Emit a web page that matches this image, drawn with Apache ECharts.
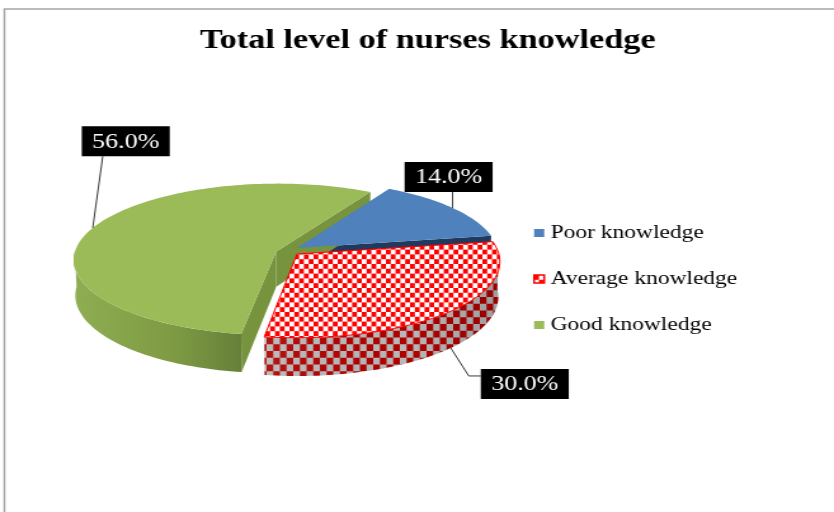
<!DOCTYPE html>
<html><head><meta charset="utf-8">
<script src="https://cdn.jsdelivr.net/npm/echarts@6/dist/echarts.min.js"></script>
<style>
html,body{margin:0;padding:0;background:#fff;overflow:hidden}
#wrap{width:834px;height:512px;overflow:hidden;position:relative}
#c{width:657px;height:512px;transform:scaleX(1.269406);transform-origin:0 0}
</style>
</head><body><div id="wrap"><div id="c"></div></div>
<script>
// ---- data ----
const categories = ['Poor knowledge', 'Average knowledge', 'Good knowledge'];
const values = [14.0, 30.0, 56.0];
const titleText = 'Total level of nurses knowledge';

// ---- layout / styles ----
const SX = 834 / 657;              // horizontal stretch of the picture
const CAM = {D: 9.33, s: 0.372, c: 0.928};
const PX = 201;                    // pixels per radius at pie centre
const CX = 297 / SX, CY = 251;     // pie centre (logical px)
const DEPTH = 0.189;               // pie thickness (radius units)
const START = 60;                  // start angle of first slice (deg, ccw from 3 o'clock)
const OFFSETS = [[0, 0.04], [0, -0.04], [-0.104, -0.01]]; // slice explosion
const DRAW_ORDER = [0, 2, 1];      // back to front
const LABEL_FONT = 'Liberation Serif';

function checker(cw, ch, n, c1, c2) {
  const cv = document.createElement('canvas');
  cv.width = Math.round(cw * n); cv.height = Math.round(ch * n);
  const g = cv.getContext('2d');
  g.fillStyle = c2; g.fillRect(0, 0, cv.width, cv.height);
  g.fillStyle = c1;
  for (let r = 0; r < n; r++) for (let q = 0; q < n; q++)
    if ((r + q) % 2 === 0) g.fillRect(q * cw, r * ch, cw, ch);
  return {image: cv, repeat: 'repeat'};
}
const redTop = checker(3.8, 4.8, 10, '#ff0000', '#ffffff');
const redSide = checker(5.25, 6.75, 4, '#b00000', '#b8b8b8');

const STYLES = [
  {top: '#4f81bd', cut: '#1f3a5c', wall: '#2c4d74', stroke: null},
  {top: redTop, cut: '#a00000', wall: redSide, stroke: '#ff0000',
   shade: [[0, 'rgba(255,255,255,0.08)'], [0.6, 'rgba(0,0,0,0)'], [1, 'rgba(0,0,0,0.15)']]},
  {top: '#9bbb59', cut: '#77933d', wallGrad: [[0, '#8fad51'], [0.6, '#7e9b44'], [1, '#66803a']], stroke: null}
];
// label layout in screen px relative to anchor
const LABELS = [
  {z: 0, dx: -4, dy: -31, mode: 'up'},
  {z: -DEPTH, dx: 74, dy: 36, mode: 'elbow'},
  {z: 0, dx: 33, dy: -86.6, mode: 'slant'}
];
const BOX_W = 88, BOX_H = 30;

function proj(X, Y, Z) {
  const den = CAM.D + Y * CAM.c - Z * CAM.s;
  const f = PX * CAM.D / den;
  return [CX + X * f / SX, CY - (Y * CAM.s + Z * CAM.c) * f];
}
function sliceRange(i) {
  const total = values.reduce((a, b) => a + b, 0);
  let before = 0;
  for (let k = 0; k < i; k++) before += values[k];
  const hi = START - 360 * before / total;
  const lo = hi - 360 * values[i] / total;
  return [lo, hi];
}
function rim(i, deg, Z) {
  const t = deg * Math.PI / 180;
  return proj(OFFSETS[i][0] + Math.cos(t), OFFSETS[i][1] + Math.sin(t), Z);
}
function arcPts(i, a, b, Z) {
  const n = Math.max(2, Math.ceil(Math.abs(b - a) / 1.5));
  const pts = [];
  for (let k = 0; k <= n; k++) pts.push(rim(i, a + (b - a) * k / n, Z));
  return pts;
}

function renderSlice(i) {
  return function (params, api) {
    const [lo, hi] = sliceRange(i);
    const [ox, oy] = OFFSETS[i];
    const ord = DRAW_ORDER.indexOf(i);
    const st = STYLES[i];
    const children = [];
    const apexT = proj(ox, oy, 0), apexB = proj(ox, oy, -DEPTH);
    // radial cut faces
    [[lo, 1], [hi, -1]].forEach(([deg, sg]) => {
      const t = deg * Math.PI / 180;
      const n = [sg * Math.sin(t), -sg * Math.cos(t)];
      const v = [-ox, -CAM.D * CAM.c - oy];
      if (n[0] * v[0] + n[1] * v[1] <= 0) return;
      children.push({type: 'polygon', z2: 10 + ord,
        shape: {points: [apexT, rim(i, deg, 0), rim(i, deg, -DEPTH), apexB]},
        style: {fill: st.cut}});
    });
    // outer front wall
    for (let m = -2; m <= 1; m++) {
      const a = Math.max(lo, -180 + 360 * m), b = Math.min(hi, 360 * m);
      if (b <= a) continue;
      const pts = arcPts(i, a, b, 0).concat(arcPts(i, b, a, -DEPTH));
      let minx = Infinity, maxx = -Infinity;
      pts.forEach(p => { minx = Math.min(minx, p[0]); maxx = Math.max(maxx, p[0]); });
      let fill = st.wall;
      if (st.wallGrad) fill = {type: 'linear', x: minx, y: 0, x2: maxx, y2: 0, global: true,
        colorStops: st.wallGrad.map(s => ({offset: s[0], color: s[1]}))};
      children.push({type: 'polygon', z2: 20 + ord, shape: {points: pts}, style: {fill: fill}});
      if (st.shade) children.push({type: 'polygon', z2: 21 + ord, shape: {points: pts},
        style: {fill: {type: 'linear', x: minx, y: 0, x2: maxx, y2: 0, global: true,
          colorStops: st.shade.map(s => ({offset: s[0], color: s[1]}))}}});
    }
    // top face
    const top = [apexT].concat(arcPts(i, lo, hi, 0));
    children.push({type: 'polygon', z2: 100 + ord, shape: {points: top},
      style: {fill: st.top, stroke: st.stroke || null, lineWidth: st.stroke ? 1 : 0}});
    // data label
    const L = LABELS[i];
    const anc = rim(i, (lo + hi) / 2, L.z);
    const bx = anc[0] + L.dx / SX, by = anc[1] + L.dy;
    let line;
    if (L.mode === 'up') line = [anc, [anc[0], by + BOX_H / 2]];
    else if (L.mode === 'slant') line = [anc, [bx - 23 / SX, by + BOX_H / 2]];
    else line = [anc, [bx - (BOX_W / 2 + 12) / SX, by - 8], [bx - BOX_W / 2 / SX, by - 8]];
    children.push({type: 'polyline', z2: 200, shape: {points: line},
      style: {stroke: '#3a3a3a', lineWidth: 1, fill: null}});
    children.push({type: 'rect', z2: 205,
      shape: {x: bx - BOX_W / 2 / SX, y: by - BOX_H / 2, width: BOX_W / SX, height: BOX_H},
      style: {fill: '#000000'}});
    children.push({type: 'text', z2: 210, x: bx, y: by + 1,
      style: {text: values[i].toFixed(1) + '%', fill: '#ffffff',
        font: 'normal 20.5px "' + LABEL_FONT + '", serif',
        fontFamily: LABEL_FONT, fontSize: 20.5,
        align: 'center', verticalAlign: 'middle'}});
    return {type: 'group', children: children};
  };
}

const legendStyles = [
  {color: '#4f81bd'},
  {color: redTop, borderColor: '#ff0000', borderWidth: 1.5},
  {color: '#9bbb59'}
];

const chart = echarts.init(document.getElementById('c'), null, {renderer: 'canvas'});
chart.setOption({
  animation: false,
  backgroundColor: '#ffffff',
  title: {
    text: titleText, left: 157.5, top: 28, padding: 0,
    textStyle: {fontFamily: 'Liberation Serif', fontWeight: 'bold', fontSize: 27, color: '#000'}
  },
  legend: {
    orient: 'vertical', left: 420, top: 223, padding: 0,
    itemWidth: 8, itemHeight: 8, itemGap: 26, icon: 'rect',
    textStyle: {fontFamily: 'Liberation Serif', fontSize: 18.5, lineHeight: 20, color: '#000'},
    data: categories.map((n, i) => ({name: n, itemStyle: legendStyles[i]}))
  },
  graphic: [{type: 'rect', shape: {x: 3.5, y: 9, width: 1000, height: 1000},
    style: {fill: null, stroke: '#a6a6a6', lineWidth: 1.5}, silent: true}],
  series: categories.map((n, i) => ({
    type: 'custom', name: n, coordinateSystem: 'none', silent: true,
    itemStyle: legendStyles[i],
    data: [values[i]],
    renderItem: renderSlice(i)
  }))
});
</script>
</body></html>
